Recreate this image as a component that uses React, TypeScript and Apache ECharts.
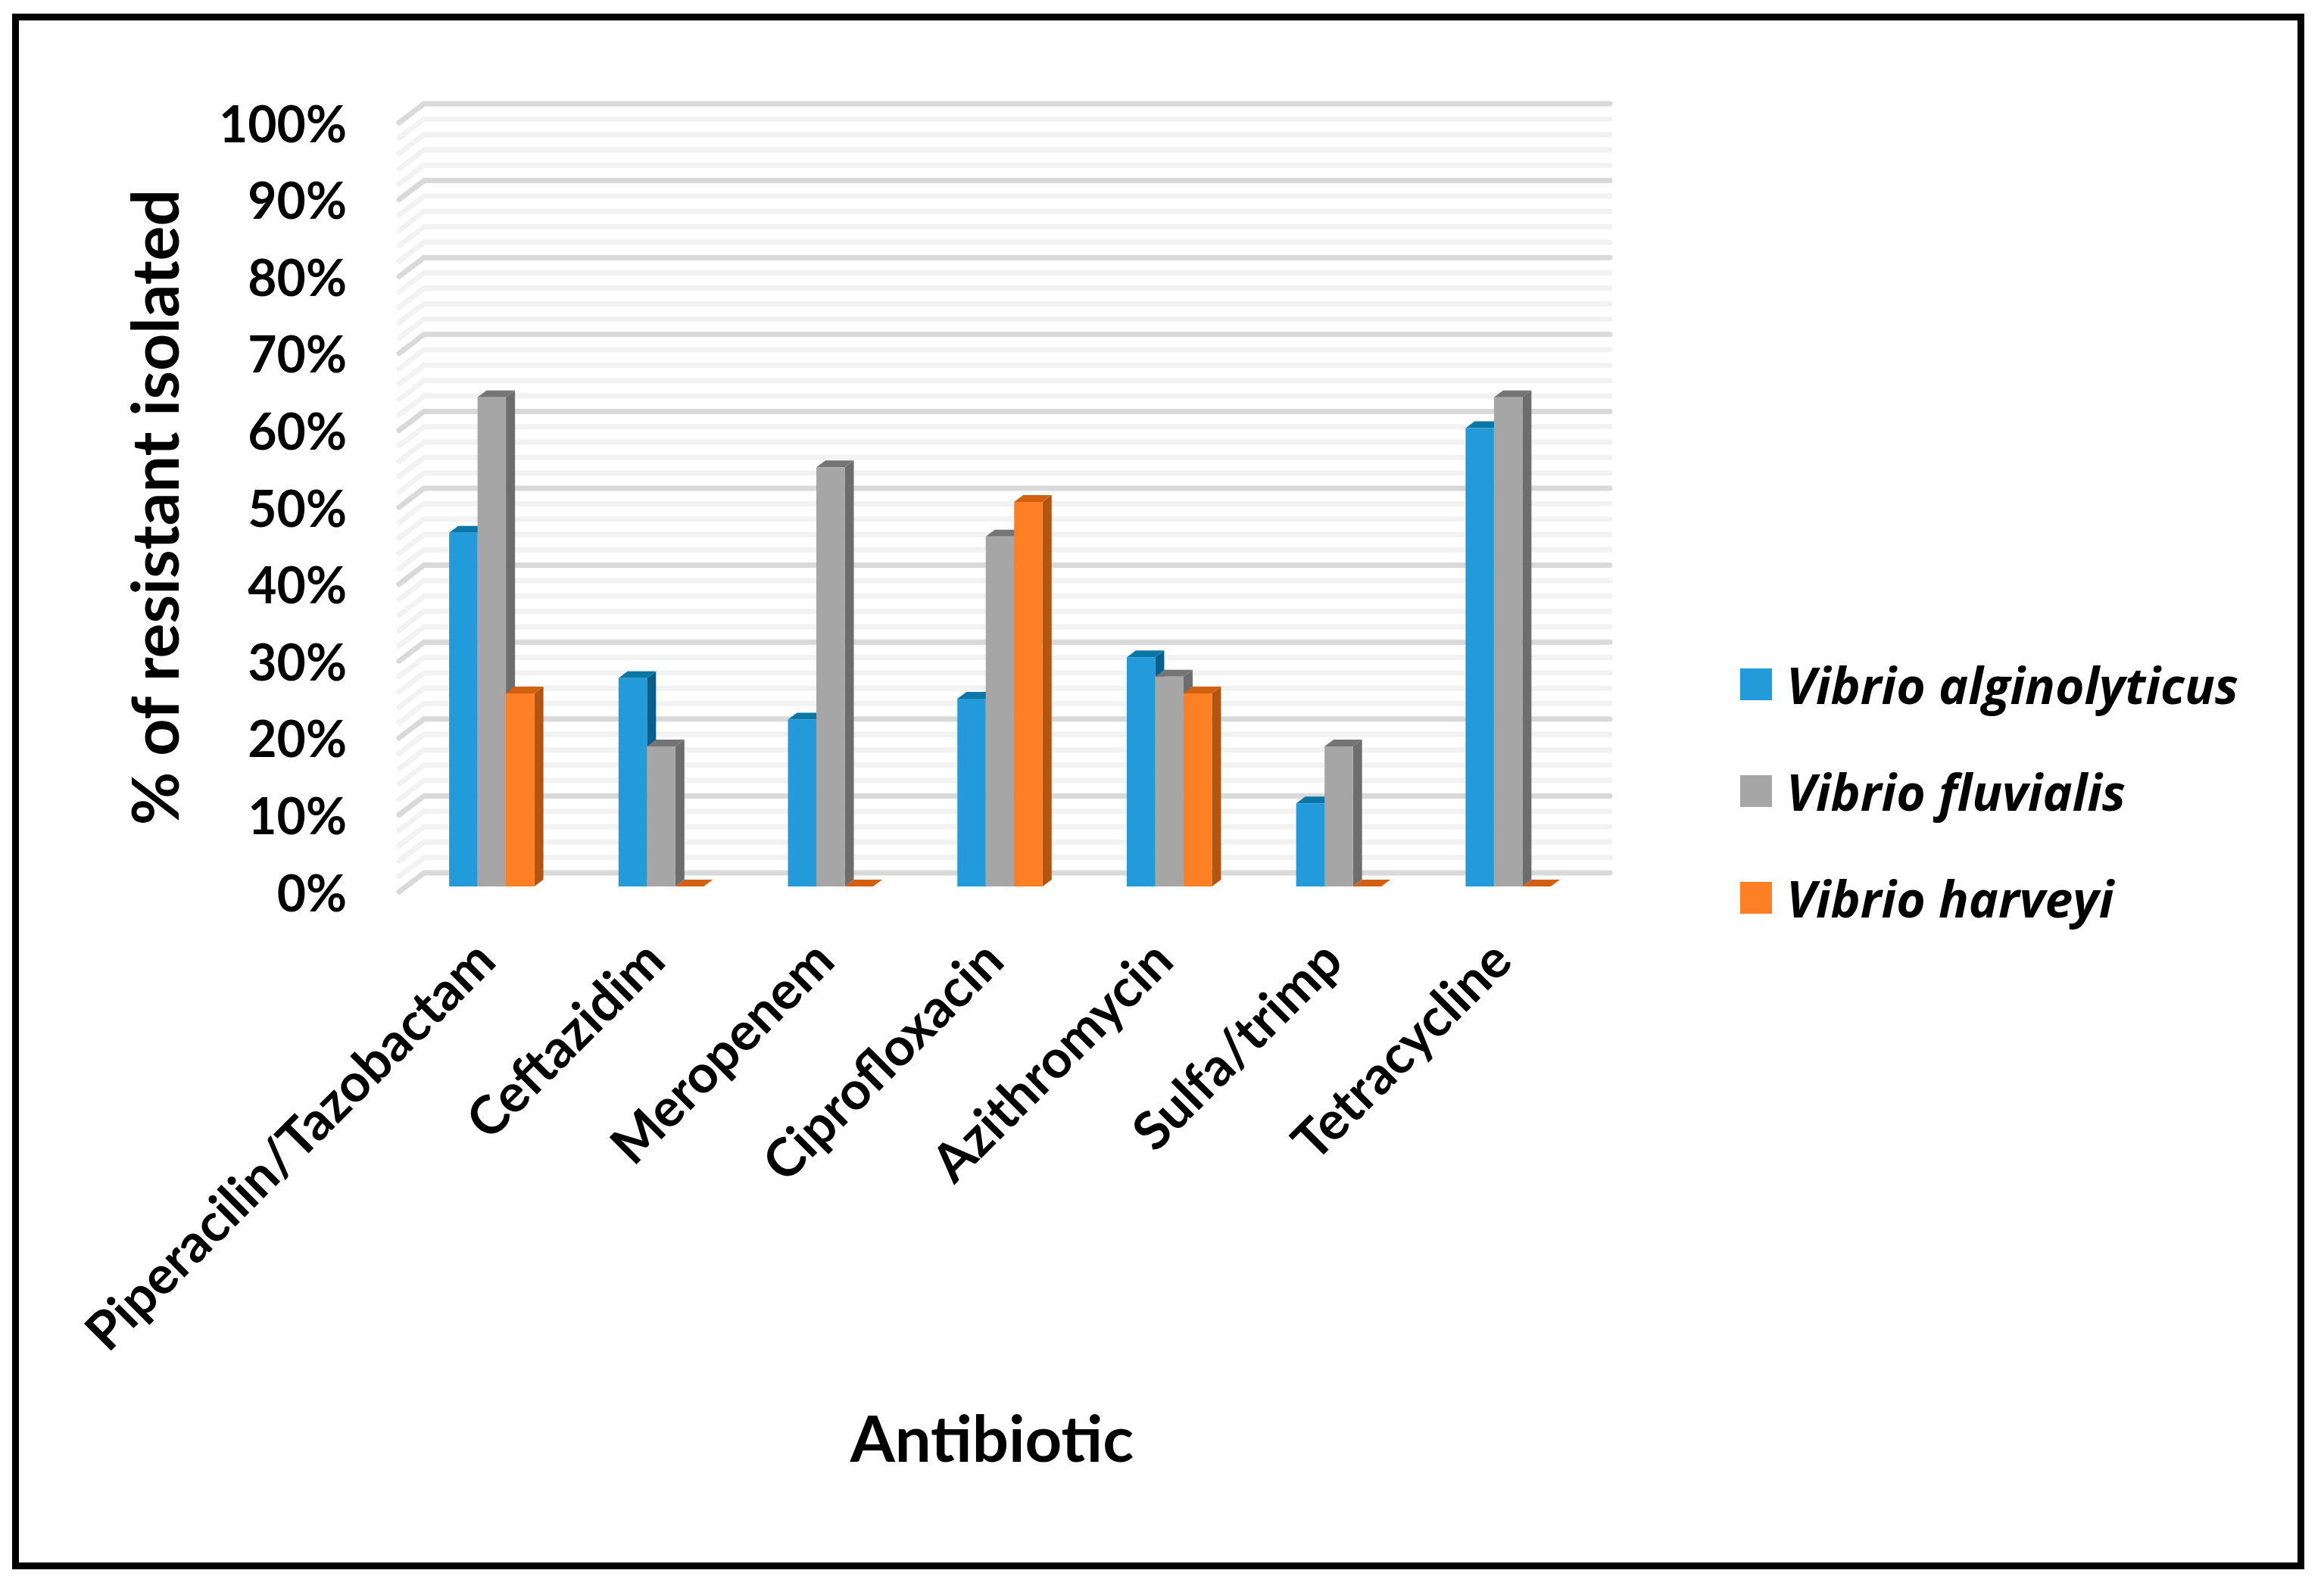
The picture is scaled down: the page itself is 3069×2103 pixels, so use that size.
import React, { useEffect, useRef } from "react";
import * as echarts from "echarts";

const categories = ["Piperacilin/Tazobactam", "Ceftazidim", "Meropenem", "Ciprofloxacin", "Azithromycin", "Sulfa/trimp", "Tetracycline"];
const alginolyticus = [46.0, 27.1, 21.7, 24.4, 29.8, 10.8, 59.6];
const fluvialis = [63.6, 18.2, 54.5, 45.5, 27.3, 18.2, 63.6];
const harveyi = [25.1, 0, 0, 50.0, 25.1, 0, 0];
const gridValues = [0, 2, 4, 6, 8, 10, 12, 14, 16, 18, 20, 22, 24, 26, 28, 30, 32, 34, 36, 38, 40, 42, 44, 46, 48, 50, 52, 54, 56, 58, 60, 62, 64, 66, 68, 70, 72, 74, 76, 78, 80, 82, 84, 86, 88, 90, 92, 94, 96, 98, 100];

const FONT = "Lato";
const BAR_W = 37.5;
const IN_X = 10.5, IN_Y = 7;      // bars stand a little behind the floor's front edge
const D_X = 12, D_Y = 9;          // bar depth
const WALL_X = 33, WALL_Y = 25;   // wall depth

const barSeries = (name: string, values: number[], idx: number, front: string, top: string, side: string) => ({
  type: "custom",
  name,
  coordinateSystem: "cartesian2d",
  clip: false,
  z: 3 + idx,
  itemStyle: { color: front },
  data: values.map((v, i) => [i, v]),
  renderItem: (_: any, api: any) => {
    const c = api.coord([api.value(0), api.value(1)]);
    const b = api.coord([api.value(0), 0]);
    const x0 = c[0] + (idx - 1.5) * BAR_W + IN_X;
    const x1 = x0 + BAR_W;
    const yt = c[1] - IN_Y;
    const yb = b[1] - IN_Y;
    return {
      type: "group",
      children: [
        { type: "polygon", shape: { points: [[x1, yt], [x1 + D_X, yt - D_Y], [x1 + D_X, yb - D_Y], [x1, yb]] }, style: { fill: side } },
        { type: "polygon", shape: { points: [[x0, yt], [x0 + D_X, yt - D_Y], [x1 + D_X, yt - D_Y], [x1, yt]] }, style: { fill: top } },
        { type: "rect", shape: { x: x0, y: yt, width: BAR_W, height: yb - yt }, style: { fill: front } },
      ],
    };
  },
});

export default function App() {
  const ref = useRef<HTMLDivElement>(null);
  useEffect(() => {
    document.body.style.margin = "0";
    const chart = echarts.init(ref.current!, null, { renderer: "svg" });
    chart.setOption({
      animation: false,
      backgroundColor: "#ffffff",
      textStyle: { fontFamily: FONT },
      grid: { left: 527, top: 162, width: 1566, height: 1016, containLabel: false },
      graphic: [
        { type: "rect", shape: { x: 20.5, y: 22.5, width: 3018, height: 2046 }, style: { fill: "none", stroke: "#000000", lineWidth: 9 } },
      ],
      legend: {
        orient: "vertical",
        left: 2293,
        top: 866,
        itemWidth: 42,
        itemHeight: 42,
        itemGap: 75,
        icon: "rect",
        data: ["Vibrio alginolyticus", "Vibrio fluvialis", "Vibrio harveyi"],
        textStyle: { fontFamily: "Open Sans", fontSize: 66, fontWeight: "bold", fontStyle: "italic", color: "#000000", padding: [0, 0, 12, 14] },
      },
      xAxis: {
        type: "category",
        data: categories,
        name: "Antibiotic",
        nameLocation: "middle",
        nameGap: 677,
        nameTextStyle: { fontFamily: FONT, fontSize: 85, fontWeight: "bold", color: "#000000" },
        axisLine: { show: false },
        axisTick: { show: false },
        axisLabel: { rotate: 45, interval: 0, margin: 76, fontFamily: FONT, fontSize: 70, fontWeight: "bold", color: "#000000" },
      },
      yAxis: {
        type: "value",
        min: 0,
        max: 100,
        interval: 10,
        name: "% of resistant isolated",
        nameLocation: "middle",
        nameGap: 282,
        nameRotate: 90,
        nameTextStyle: { fontFamily: FONT, fontSize: 86, fontWeight: "bold", color: "#000000" },
        axisLine: { show: false },
        axisTick: { show: false },
        splitLine: { show: false },
        axisLabel: { formatter: "{value}%", margin: 69, padding: [16, 0, 0, 0], fontFamily: FONT, fontSize: 66, fontWeight: "bold", color: "#000000" },
      },
      series: [
        {
          type: "custom",
          name: "gridlines",
          coordinateSystem: "cartesian2d",
          clip: false,
          silent: true,
          z: 1,
          data: gridValues.map((v) => [0, v]),
          renderItem: (params: any, api: any) => {
            const v = api.value(1);
            const y = api.coord([0, v])[1];
            const cs = params.coordSys;
            return {
              type: "polyline",
              shape: { points: [[cs.x, y], [cs.x + WALL_X, y - WALL_Y], [cs.x + WALL_X + cs.width, y - WALL_Y]] },
              style: { fill: "none", stroke: v % 10 === 0 ? "#D9D9D9" : "#F2F2F2", lineWidth: 7, lineCap: "round", lineJoin: "miter" },
            };
          },
        },
        barSeries("Vibrio alginolyticus", alginolyticus, 0, "#239BDB", "#0A76A5", "#07608C"),
        barSeries("Vibrio fluvialis", fluvialis, 1, "#A6A6A6", "#757575", "#6D6D6D"),
        barSeries("Vibrio harveyi", harveyi, 2, "#FE7F24", "#D2600F", "#B3540F"),
      ],
    });
    return () => chart.dispose();
  }, []);
  return <div ref={ref} style={{ width: 3069, height: 2103 }} />;
}
